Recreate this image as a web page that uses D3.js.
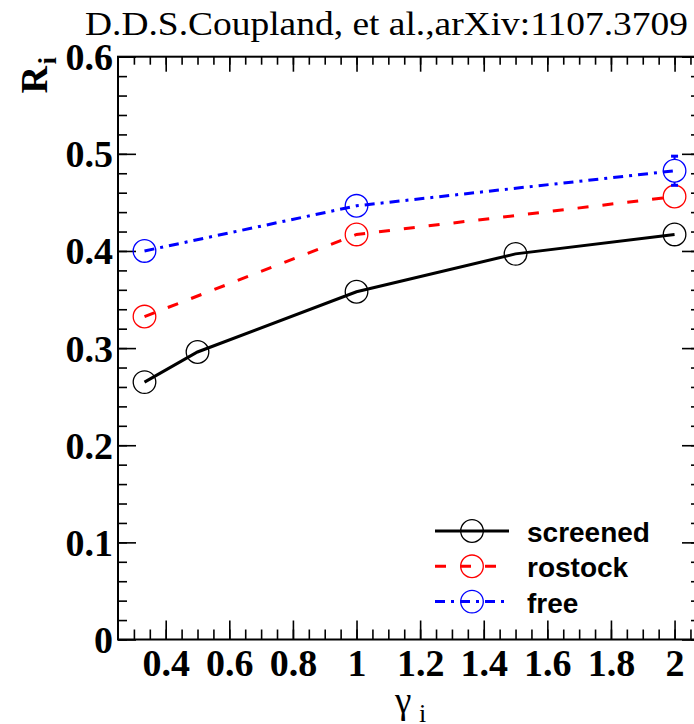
<!DOCTYPE html>
<html>
<head>
<meta charset="utf-8">
<script src="https://cdn.jsdelivr.net/npm/d3@7"></script>
<style>
  body { margin: 0; background: #fff; }
  svg { display: block; }
</style>
</head>
<body>
<script>
// ---- data ----
var screenedGamma = [1/3, 0.5, 1, 1.5, 2];
var screenedR     = [0.265, 0.296, 0.358, 0.397, 0.417];
var rostockGamma  = [1/3, 1, 2];
var rostockR      = [0.3325, 0.417, 0.456];
var freeGamma     = [1/3, 1, 2];
var freeR         = [0.400, 0.4465, 0.4826];
var freeErr       = [0, 0, 0.015];

var xMajor = d3.range(2, 11).map(function(i) { return i / 5; });
var xMinor = d3.range(6, 42).map(function(i) { return i / 20; });
var yMajor = d3.range(0, 7).map(function(i) { return i / 10; });
var yMinor = d3.range(0, 31).map(function(i) { return i / 50; });

var seriesNames = ["screened", "rostock", "free"];

// ---- layout ----
// (window.top is read-only, so the frame edges get their own names)
var W = 694, H = 724;
var frameL = 118, frameR = 700, frameT = 56.7, frameB = 639.5;

var svg = d3.select("body").append("svg")
    .attr("width", W).attr("height", H);

var x = d3.scaleLinear().domain([0.25, 2.08]).range([frameL, frameR]);
var y = d3.scaleLinear().domain([0, 0.6]).range([frameB, frameT]);

var serifBold = "'Liberation Serif', 'Times New Roman', serif";
var sansBold = "'Liberation Sans', Arial, sans-serif";
var fmt = d3.format("~g");

// axes: ticks pointing into the frame
function drawAxis(axis, tx, ty, labels) {
  var g = svg.append("g")
      .attr("transform", "translate(" + tx + "," + ty + ")")
      .call(axis);
  g.select(".domain").remove();
  g.selectAll(".tick line").attr("stroke", "#000").attr("stroke-width", 1.6);
  if (!labels) g.selectAll(".tick text").remove();
  return g;
}

var gx = drawAxis(d3.axisBottom(x).tickValues(xMajor).tickSize(-19).tickPadding(10).tickFormat(fmt), 0, frameB, true);
drawAxis(d3.axisBottom(x).tickValues(xMinor).tickSize(-10), 0, frameB, false);
drawAxis(d3.axisTop(x).tickValues(xMajor).tickSize(-15), 0, frameT, false);
drawAxis(d3.axisTop(x).tickValues(xMinor).tickSize(-8), 0, frameT, false);

var gy = drawAxis(d3.axisLeft(y).tickValues(yMajor).tickSize(-18).tickPadding(5).tickFormat(fmt), frameL, 0, true);
drawAxis(d3.axisLeft(y).tickValues(yMinor).tickSize(-9), frameL, 0, false);
drawAxis(d3.axisRight(y).tickValues(yMajor).tickSize(-18), frameR, 0, false);
drawAxis(d3.axisRight(y).tickValues(yMinor).tickSize(-9), frameR, 0, false);

gx.selectAll(".tick text")
    .attr("font-family", serifBold).attr("font-weight", "bold")
    .attr("font-size", 38).attr("fill", "#000").attr("dy", "0.71em");
gy.selectAll(".tick text")
    .attr("font-family", serifBold).attr("font-weight", "bold")
    .attr("font-size", 38).attr("fill", "#000").attr("dy", "0.34em");

// frame
svg.append("rect")
    .attr("x", frameL).attr("y", frameT)
    .attr("width", frameR - frameL).attr("height", frameB - frameT)
    .attr("fill", "none").attr("stroke", "#000").attr("stroke-width", 2);

// ---- series ----
var series = [
  {name: seriesNames[0], gx: screenedGamma, r: screenedR, color: "#000000", dash: null},
  {name: seriesNames[1], gx: rostockGamma, r: rostockR, color: "#ff0000", dash: "11,14"},
  {name: seriesNames[2], gx: freeGamma, r: freeR, color: "#0000ff", dash: "10,6,3,6", err: freeErr}
];

var line = d3.line()
    .x(function(d) { return x(d[0]); })
    .y(function(d) { return y(d[1]); });

var markR = 11.3;

series.forEach(function(s) {
  var pts = s.gx.map(function(g, i) { return [g, s.r[i]]; });
  svg.append("path")
      .datum(pts)
      .attr("d", line)
      .attr("fill", "none")
      .attr("stroke", s.color)
      .attr("stroke-width", 3)
      .attr("stroke-dasharray", s.dash);
  if (s.err) {
    pts.forEach(function(p, i) {
      var e = s.err[i];
      if (!e) return;
      var cx = x(p[0]), yt = y(p[1] + e), yb = y(p[1] - e);
      var gE = svg.append("g").attr("stroke", s.color).attr("stroke-width", 2);
      gE.append("line").attr("x1", cx).attr("x2", cx).attr("y1", yt).attr("y2", y(p[1]) - markR);
      gE.append("line").attr("x1", cx).attr("x2", cx).attr("y1", y(p[1]) + markR).attr("y2", yb);
      gE.append("line").attr("x1", cx - 3.5).attr("x2", cx + 3.5).attr("y1", yt).attr("y2", yt).attr("stroke-width", 3);
      gE.append("line").attr("x1", cx - 3.5).attr("x2", cx + 3.5).attr("y1", yb).attr("y2", yb).attr("stroke-width", 3);
    });
  }
  svg.append("g").selectAll("circle")
      .data(pts)
      .enter()
        .append("circle")
        .attr("cx", function(d) { return x(d[0]); })
        .attr("cy", function(d) { return y(d[1]); })
        .attr("r", markR)
        .attr("fill", "none")
        .attr("stroke", s.color)
        .attr("stroke-width", 1.3);
});

// ---- legend ----
var legend = svg.append("g").selectAll("g")
    .data(series)
    .enter()
      .append("g")
      .attr("transform", function(d, i) { return "translate(0," + (531 + i * 35.3) + ")"; });

legend.append("line")
    .attr("x1", 435).attr("x2", 509).attr("y1", 0).attr("y2", 0)
    .attr("stroke", function(d) { return d.color; })
    .attr("stroke-width", 3)
    .attr("stroke-dasharray", function(d) { return d.dash; });
legend.append("circle")
    .attr("cx", 472).attr("cy", 0).attr("r", markR)
    .attr("fill", "none")
    .attr("stroke", function(d) { return d.color; })
    .attr("stroke-width", 1.3);
legend.append("text")
    .attr("x", 527).attr("y", 11)
    .attr("font-family", sansBold).attr("font-weight", "bold")
    .attr("font-size", 28)
    .text(function(d) { return d.name; });

// ---- titles ----
svg.append("text")
    .attr("x", 688).attr("y", 35)
    .attr("text-anchor", "end")
    .attr("font-family", serifBold)
    .attr("font-size", 33)
    .attr("textLength", 603)
    .attr("lengthAdjust", "spacingAndGlyphs")
    .text("D.D.S.Coupland, et al.,arXiv:1107.3709");

// y title R_i
svg.append("text")
    .attr("transform", "translate(47,66) rotate(-90)")
    .attr("text-anchor", "end")
    .attr("font-family", serifBold).attr("font-weight", "bold")
    .attr("font-size", 38)
    .text("R");
svg.append("text")
    .attr("transform", "translate(56,57) rotate(-90)")
    .attr("text-anchor", "end")
    .attr("font-family", serifBold).attr("font-weight", "bold")
    .attr("font-size", 26)
    .text("i");

// x title gamma_i
svg.append("text")
    .attr("x", 395).attr("y", 713)
    .attr("font-family", serifBold)
    .attr("font-size", 37)
    .text("γ");
svg.append("text")
    .attr("x", 419).attr("y", 722)
    .attr("font-family", serifBold)
    .attr("font-size", 26)
    .text("i");
</script>
</body>
</html>
